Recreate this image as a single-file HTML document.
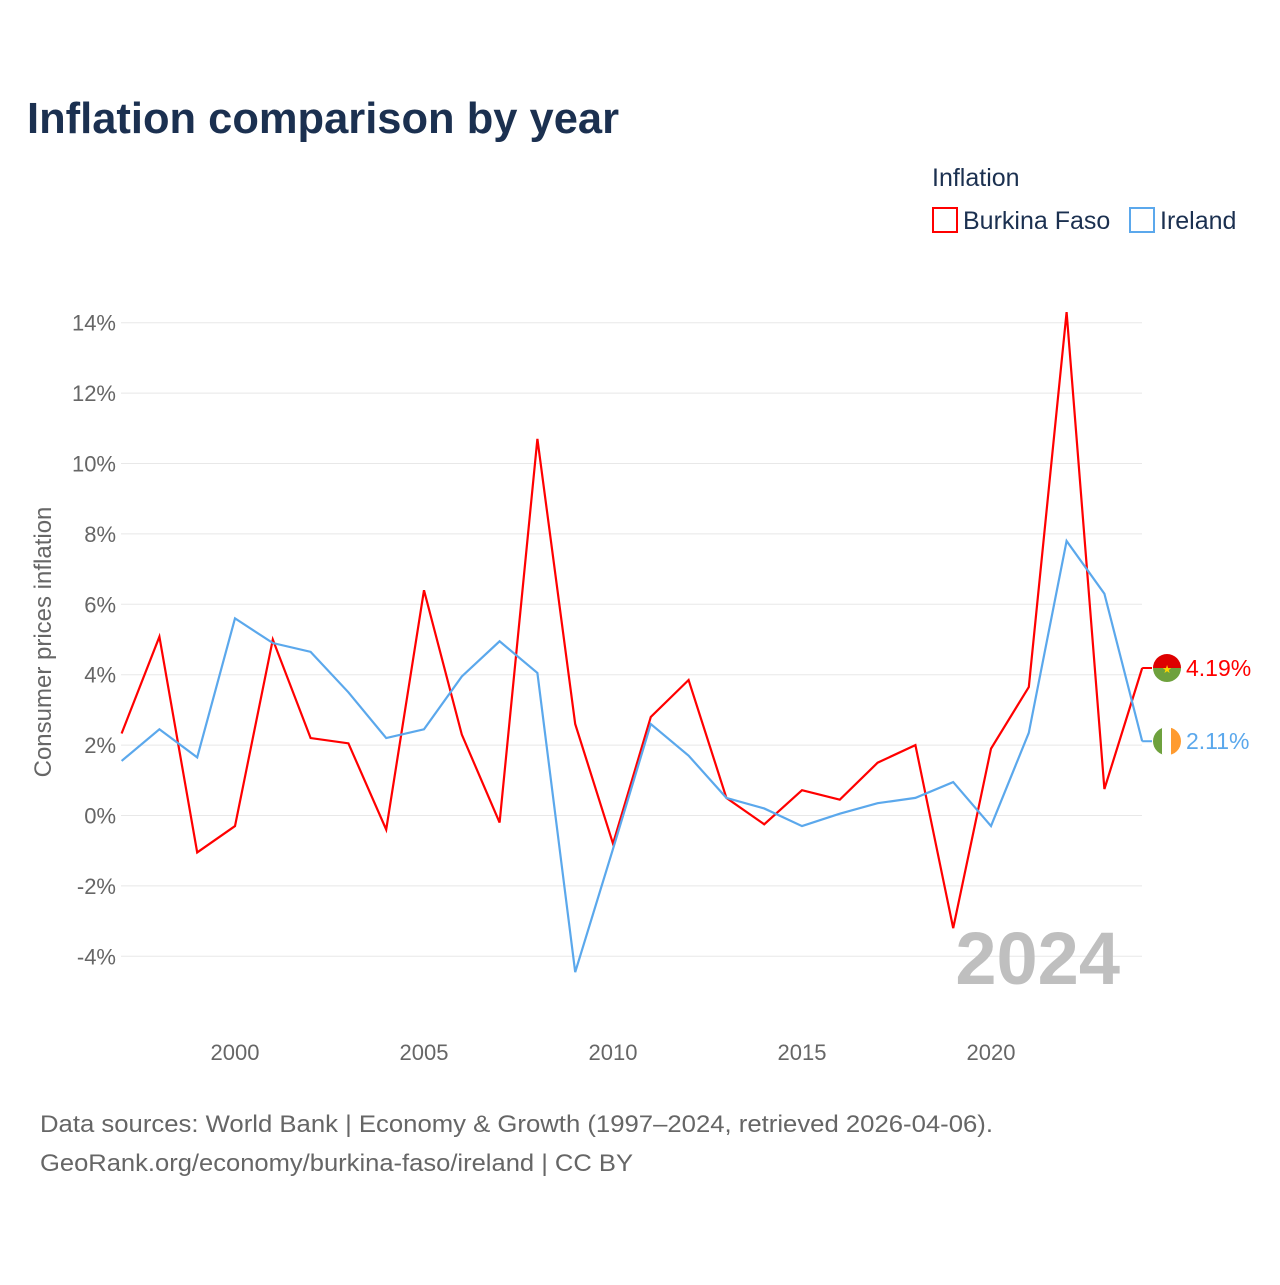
<!DOCTYPE html>
<html><head><meta charset="utf-8"><style>
body{margin:0;background:#fff;width:1280px;height:1280px;overflow:hidden;font-family:"Liberation Sans",sans-serif}
</style></head><body>
<svg id="c" width="1280" height="1280" xmlns="http://www.w3.org/2000/svg">
<text x="27" y="133" font-size="44" font-weight="bold" fill="#1b3050" textLength="592" lengthAdjust="spacingAndGlyphs">Inflation comparison by year</text>
<text x="932" y="186" font-size="25" fill="#1b3050">Inflation</text>
<g><rect x="933" y="208" width="24" height="24" fill="none" stroke="#f00" stroke-width="2"/><text x="963" y="229" font-size="25" fill="#1b3050">Burkina Faso</text></g>
<g><rect x="1130" y="208" width="24" height="24" fill="none" stroke="#5ba8ec" stroke-width="2"/><text x="1160" y="229" font-size="25" fill="#1b3050">Ireland</text></g>
<g id="grid"></g><g id="yt"></g><g id="xt"></g>
<text x="0" y="0" transform="translate(51,642) rotate(-90)" text-anchor="middle" font-size="24" fill="#666">Consumer prices inflation</text>
<text x="1120" y="984" text-anchor="end" font-size="74" font-weight="bold" fill="#bfbfbf">2024</text>
<g id="lines"></g>
<text x="40" y="1132" font-size="24" fill="#666" textLength="953" lengthAdjust="spacingAndGlyphs">Data sources: World Bank | Economy &amp; Growth (1997–2024, retrieved 2026-04-06).</text>
<text x="40" y="1171" font-size="24" fill="#666" textLength="593" lengthAdjust="spacingAndGlyphs">GeoRank.org/economy/burkina-faso/ireland | CC BY</text>
</svg>
<script>
const years=[1997,1998,1999,2000,2001,2002,2003,2004,2005,2006,2007,2008,2009,2010,2011,2012,2013,2014,2015,2016,2017,2018,2019,2020,2021,2022,2023,2024];
const burkina=[2.33,5.08,-1.05,-0.3,5.0,2.2,2.05,-0.4,6.4,2.3,-0.2,10.7,2.6,-0.8,2.8,3.85,0.5,-0.25,0.72,0.45,1.5,2.0,-3.2,1.9,3.65,14.3,0.75,4.19];
const ireland=[1.55,2.45,1.65,5.6,4.9,4.65,3.5,2.2,2.45,3.95,4.95,4.05,-4.45,-0.95,2.6,1.7,0.5,0.2,-0.3,0.05,0.35,0.5,0.95,-0.3,2.35,7.8,6.3,2.11];
const yTicks=[-4,-2,0,2,4,6,8,10,12,14];
const xTicks=[2000,2005,2010,2015,2020];
const NS="http://www.w3.org/2000/svg";
const X=y=>121.6+(y-1997)*37.8, Y=v=>815.5-v*35.2;
function mk(t,a,p){const e=document.createElementNS(NS,t);for(const k in a)e.setAttribute(k,a[k]);document.getElementById(p).appendChild(e);return e;}
yTicks.forEach(v=>{
 const g=mk('line',{x1:121,x2:1142,y1:Y(v),y2:Y(v),stroke:'#e8e8e8','stroke-width':1},'grid');
 
 
 const t=mk('text',{x:116,y:Y(v)+8,'text-anchor':'end','font-size':22,fill:'#666'},'yt');t.textContent=v+'%';
 
 
});
xTicks.forEach(v=>{
 const t=mk('text',{x:X(v),y:1060,'text-anchor':'middle','font-size':22,fill:'#666'},'xt');t.textContent=v;
 
 
});
function series(vals,col,name){
 const p=mk('polyline',{points:vals.map((v,i)=>X(years[i])+','+Y(v)).join(' '),fill:'none',stroke:col,'stroke-width':2.2,'stroke-linejoin':'miter'},'lines');
 
 
 const last=vals[vals.length-1],ly=Y(last);
 mk('line',{x1:X(2024),x2:1152,y1:ly,y2:ly,stroke:col,'stroke-width':2},'lines');
 const t=mk('text',{x:1186,y:ly+8,'font-size':23,fill:col},'lines');t.textContent=last.toFixed(2)+'%';
 
 
 return ly;
}
const by=series(burkina,'#f00','burkina-faso');
const iy=series(ireland,'#5ba8ec','ireland');
const bf=mk('g',{},'lines');


bf.innerHTML=`<clipPath id="cb"><circle cx="1167" cy="${by}" r="14"/></clipPath><g clip-path="url(#cb)"><rect x="1153" y="${by-14}" width="28" height="14" fill="#de0000"/><rect x="1153" y="${by}" width="28" height="14" fill="#6ea13d"/></g><text x="1167" y="${by+5}" text-anchor="middle" font-size="11" fill="#ffd700">★</text>`;
const ie=mk('g',{},'lines');


ie.innerHTML=`<clipPath id="ci"><circle cx="1167" cy="${iy}" r="14"/></clipPath><g clip-path="url(#ci)"><rect x="1153" y="${iy-14}" width="10" height="28" fill="#6ea13d"/><rect x="1162" y="${iy-14}" width="10" height="28" fill="#fff"/><rect x="1171" y="${iy-14}" width="10" height="28" fill="#ff9b2f"/></g>`;
</script>
</body></html>
